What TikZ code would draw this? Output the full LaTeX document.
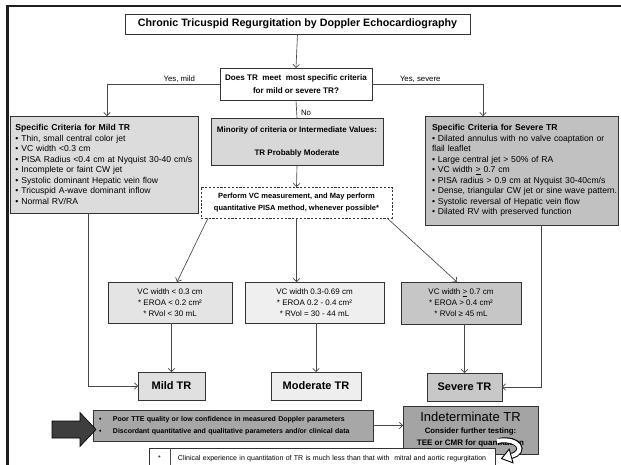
\documentclass[tikz,border=0pt]{standalone}
\usepackage{fontspec}
\setmainfont{Liberation Sans}
\usetikzlibrary{arrows.meta,calc}
\definecolor{mildfill}{HTML}{DCDCDC}
\definecolor{minfill}{HTML}{D8D8D8}
\definecolor{sevfill}{HTML}{C1C1C1}
\definecolor{vcmildfill}{HTML}{E4E4E4}
\definecolor{vcmodfill}{HTML}{EFEFEF}
\definecolor{vcsevfill}{HTML}{C6C6C6}
\definecolor{trmildfill}{HTML}{E0E0E0}
\definecolor{trmodfill}{HTML}{EEEEEE}
\definecolor{trsevfill}{HTML}{C8C8C8}
\definecolor{poorfill}{HTML}{A7A7A7}
\definecolor{indfill}{HTML}{A4A4A4}
\definecolor{bigarrowfill}{HTML}{3E3E3E}
\newcommand\fsz[2]{\fontsize{#1}{#2}\selectfont}
\newcommand\critline[1]{\mbox{•\ #1}}
\begin{document}
\begin{tikzpicture}[x=1pt,y=-1pt,line join=miter,
  every node/.style={inner sep=0pt,outer sep=0pt},
  box/.style={draw=black!80,line width=0.7pt,anchor=north west,align=center},
  conn/.style={draw=black!72,line width=0.65pt},
  arr/.style={conn,-{Straight Barb[length=3.2pt,width=6.5pt,line width=0.65pt]}},
  lbl/.style={font=\fsz{7.8}{9}},
  crit/.style={box,align=left,inner xsep=5.5pt,font=\fsz{8.6}{10.5}},
  vc/.style={box,font=\fsz{8}{11}},
  tr/.style={box,font=\bfseries\fsz{11}{12}},
]
\useasboundingbox (0,0) rectangle (621,465);
\clip (0,0) rectangle (621,465);
\fill[white] (0,0) rectangle (621,465);

% page frame (left and top edges)
\draw[line width=2.4pt,black!88] (7.3,467) -- (7.3,6.3) -- (623,6.3);

% top of the chart
\node[box,minimum width=345pt,minimum height=20pt,font=\bfseries\fsz{10.7}{12}] (title) at (125,14)
  {Chronic Tricuspid Regurgitation by Doppler Echocardiography};
\node[box,minimum width=152pt,minimum height=32pt,font=\bfseries\fsz{8.1}{12.5}] (quest) at (220,68)
  {Does TR\ \ meet\ \ most specific criteria\\for mild or severe TR?};

% criteria boxes
\node[crit,fill=mildfill,text width=177pt,minimum height=97pt] (mild) at (10,116)
  {\textbf{Specific Criteria for Mild TR}\\
   \critline{Thin, small central color jet}\\
   \critline{VC width <0.3 cm}\\
   \critline{PISA Radius <0.4 cm at Nyquist 30-40 cm/s}\\
   \critline{Incomplete or faint CW jet}\\
   \critline{Systolic dominant Hepatic vein flow}\\
   \critline{Tricuspid A-wave dominant inflow}\\
   \critline{Normal RV/RA}};
\node[crit,inner xsep=7pt,fill=sevfill,text width=179pt,minimum height=109pt] (severe) at (425,116)
  {\textbf{Specific Criteria for Severe TR}\\
   \critline{Dilated annulus with no valve coaptation or}\\
   flail leaflet\\
   \critline{Large central jet > 50\% of RA}\\
   \critline{VC width \underline{>} 0.7 cm}\\
   \critline{PISA radius > 0.9 cm at Nyquist 30-40cm/s}\\
   \critline{Dense, triangular CW jet or sine wave pattern.}\\
   \critline{Systolic reversal of Hepatic vein flow}\\
   \critline{Dilated RV with preserved function}};
\node[box,fill=minfill,minimum width=172pt,minimum height=47pt,font=\bfseries\fsz{8}{11}] (minority) at (211,118)
  {Minority of criteria or Intermediate Values:\\[12pt]TR Probably Moderate};
\node[box,dash pattern=on 2.2pt off 1.6pt,fill=white,minimum width=191pt,minimum height=31pt,font=\bfseries\fsz{7.5}{12}] (perform) at (201,187)
  {Perform VC measurement, and May perform\\quantitative PISA method, whenever possible*};

% quantitative boxes
\node[vc,fill=vcmildfill,minimum width=124pt,minimum height=41pt] (vcmild) at (108,282)
  {VC width < 0.3 cm\\* EROA < 0.2 cm²\\* RVol < 30 mL};
\node[vc,fill=vcmodfill,minimum width=139pt,minimum height=41pt] (vcmod) at (245,282)
  {VC width 0.3-0.69 cm\\* EROA 0.2 - 0.4 cm²\\* RVol = 30 - 44 mL};
\node[vc,fill=vcsevfill,minimum width=120pt,minimum height=42pt] (vcsev) at (401,282)
  {VC width \underline{>} 0.7 cm\\* EROA > 0.4 cm²\\* RVol ≥ 45 mL};

% grades
\node[tr,fill=trmildfill,minimum width=67pt,minimum height=28pt] (trmild) at (138,372) {Mild TR};
\node[tr,fill=trmodfill,minimum width=90pt,minimum height=28pt] (trmod) at (271,372) {Moderate TR};
\node[tr,fill=trsevfill,minimum width=75pt,minimum height=28pt] (trsev) at (427,373) {Severe TR};

% connectors
\draw[arr] (title.south) -- (quest.north);
\coordinate (mildin) at ($(mild.north west)+(97,0)$);
\draw[arr] (quest.west) -| (mildin);
\coordinate (sevin) at ($(severe.north west)+(58,0)$);
\draw[arr] (quest.east) -| (sevin);
\draw[conn] (quest.south) -- (minority.north);
\draw[arr] (minority.south) -- (perform.north);
\draw[arr] ($(perform.south west)+(7,0)$) -- ($(vcmild.north)+(7,0)$);
\draw[arr] (perform.south) -- (perform.south |- vcmod.north);
\draw[arr] ($(perform.south east)+(-5,0)$) -- ($(vcsev.north)+(-4,0)$);
\draw[arr] (trmild.north |- vcmild.south) -- (trmild.north);
\draw[arr] (trmod.north |- vcmod.south) -- (trmod.north);
\draw[arr] (trsev.north |- vcsev.south) -- (trsev.north);
\coordinate (mildout) at ($(mild.south west)+(78,0)$);
\draw[arr] (mildout) |- (trmild.west);
\coordinate (sevout) at ($(severe.south west)+(116,0)$);
\draw[arr] (sevout) |- (trsev.east);

\node[lbl,anchor=south east] (ymild) at ($(quest.west)+(-25,-2)$) {Yes, mild};
\node[lbl,anchor=south west] (ysev) at ($(quest.east)+(28,-2)$) {Yes, severe};
\node[lbl,anchor=west] (no) at ($(quest.south)+(5,13)$) {No};

% bottom row
\node[box,fill=poorfill,minimum width=280pt,minimum height=31pt,align=left,inner xsep=6pt,text width=268pt,font=\bfseries\fsz{7}{12}] (poor) at (93,410)
  {\makebox[14pt][l]{•}Poor TTE quality or low confidence in measured Doppler parameters\\
   \makebox[14pt][l]{•}Discordant quantitative and qualitative parameters and/or clinical data};
\draw[fill=bigarrowfill,draw=black,line width=0.6pt]
  ($(poor.west)+(-41,-4.5)$) -- ($(poor.west)+(-13,-4.5)$) -- ($(poor.west)+(-13,-13)$)
  -- ($(poor.west)+(3,4)$) -- ($(poor.west)+(-13,21)$) -- ($(poor.west)+(-13,12.5)$)
  -- ($(poor.west)+(-41,12.5)$) -- cycle;
\node[box,fill=indfill,minimum width=135pt,minimum height=48pt,font=\fsz{8}{12}] (ind) at (403,406)
  {{\fsz{13}{13}Indeterminate TR}\\{\bfseries\fsz{7.8}{12}Consider further testing:}\\{\bfseries TEE or CMR for quantitation}};
\draw[arr] (poor.east) -- (poor.east -| ind.west);

% footnote
\node[box,fill=white,minimum width=346pt,minimum height=22pt,align=left,inner xsep=0pt,text width=346pt,font=\fsz{7}{8}] (foot) at (149,448)
  {\makebox[21pt]{*}\hspace{8pt}Clinical experience in quantitation of TR is much less than that with\ \ mitral and aortic regurgitation};
\draw[line width=0.6pt,black!70] ($(foot.north west)+(21,0)$) -- ($(foot.south west)+(21,0)$);

% hollow curved arrow from the indeterminate box to the footnote
\draw[line width=6pt,black] (499,441) .. controls (519,437) and (527,452) .. (511,456);
\draw[line width=4pt,white] (497,441) .. controls (519,437) and (527,452) .. (511,456);
\draw[fill=white,draw=black,line width=0.9pt] (501.5,458.6) -- (509.2,449.2) -- (513,462.8) -- cycle;
\end{tikzpicture}
\end{document}
